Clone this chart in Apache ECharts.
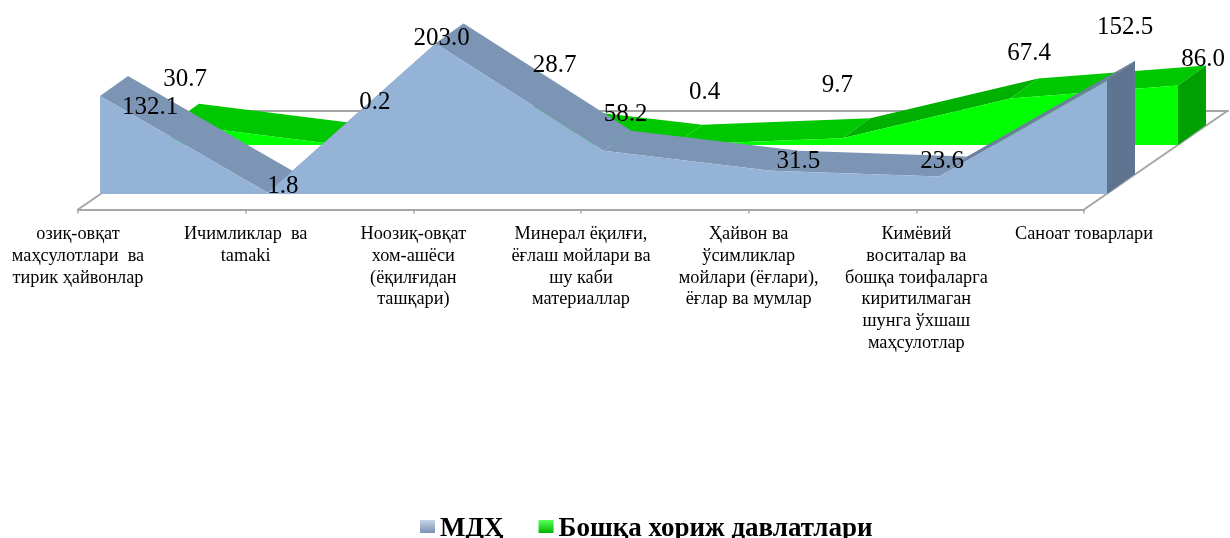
<!DOCTYPE html>
<html><head><meta charset="utf-8">
<style>html,body{margin:0;padding:0;background:#fff}#c{width:1230px;height:538px}</style>
<script src="https://cdn.jsdelivr.net/npm/echarts@6/dist/echarts.min.js"></script>
</head><body><div id="c"></div>
<script>
const categories = [
  "озиқ-овқат\nмаҳсулотлари  ва\nтирик ҳайвонлар",
  "Ичимликлар  ва\ntamaki",
  "Ноозиқ-овқат\nхом-ашёси\n(ёқилғидан\nташқари)",
  "Минерал ёқилғи,\nёғлаш мойлари ва\nшу каби\nматериаллар",
  "Ҳайвон ва\nўсимликлар\nмойлари (ёғлари),\nёғлар ва мумлар",
  "Кимёвий\nвоситалар ва\nбошқа тоифаларга\nкиритилмаган\nшунга ўхшаш\nмаҳсулотлар",
  "Саноат товарлари"
];
const seriesNames = ["МДҲ", "Бошқа хориж давлатлари"];
const mdhValues = [132.1, 1.8, 203.0, 58.2, 31.5, 23.6, 152.5];
const otherValues = [30.7, 0.2, 28.7, 0.4, 9.7, 67.4, 86.0];
const mdhLabelShift = [[50,24.5],[15,7],[6,8],[22,-23.5],[27,4],[3,-2],[18,-40.5]];
const otherLabelShift = [[14,-31],[36,-29.5],[48,-46.5],[30,-39.5],[-5,-39.5],[19,-32.5],[25,-13.5]];

const DEPTH = [28, -20];
const FLOOR = [144, -99];
const W = 1230, H = 538;
const YMAX = 210, PLOT_H = 155.8;
const STEP_W = 1007;
const FONT = '"Liberation Serif","Times New Roman",serif';

function gridAt(left, base, height) {
  return {left: left, top: base - height, width: STEP_W, height: height, containLabel: false};
}
function hiddenX(i) {
  return {type:'category', gridIndex:i, data:categories, boundaryGap:false, show:false};
}
function hiddenY(i) {
  return {type:'value', gridIndex:i, min:0, max:YMAX, show:false};
}
function segments(vals) { return vals.slice(0,-1).map((v,i)=>[i, v, vals[i+1]]); }

function topFaces(vals, axis, z, lightColor, darkColor) {
  return {
    type:'custom', xAxisIndex:axis, yAxisIndex:axis, z:z, silent:true, clip:false,
    data:segments(vals), encode:{x:0,y:1},
    renderItem(params, api) {
      const i = api.value(0);
      const a = api.coord([i, api.value(1)]);
      const b = api.coord([i+1, api.value(2)]);
      const up = b[1] < a[1] - 20;
      return {type:'polygon', shape:{points:[a,b,[b[0]+DEPTH[0],b[1]+DEPTH[1]],[a[0]+DEPTH[0],a[1]+DEPTH[1]]]},
        style:{fill: up ? darkColor : lightColor}};
    }
  };
}
function endCap(vals, axis, z, color) {
  const last = vals.length-1;
  return {
    type:'custom', xAxisIndex:axis, yAxisIndex:axis, z:z, silent:true, clip:false,
    data:[[last, vals[last]]], encode:{x:0,y:1},
    renderItem(params, api) {
      const a = api.coord([api.value(0), api.value(1)]);
      const b = api.coord([api.value(0), 0]);
      return {type:'polygon', shape:{points:[a,b,[b[0]+DEPTH[0],b[1]+DEPTH[1]],[a[0]+DEPTH[0],a[1]+DEPTH[1]]]},
        style:{fill:color}};
    }
  };
}
function frontFace(name, vals, axis, z, color) {
  return {
    type:'line', name:name, xAxisIndex:axis, yAxisIndex:axis, z:z, silent:true, clip:false,
    data:vals, showSymbol:false, symbol:'none', lineStyle:{width:0},
    itemStyle:{color:color}, areaStyle:{color:color, opacity:1}
  };
}
function labels(name, vals, shift, axis) {
  return {
    type:'line', name:name, xAxisIndex:axis, yAxisIndex:axis, z:20, silent:true, clip:false,
    symbol:'circle', symbolSize:1, showSymbol:true, showAllSymbol:true,
    lineStyle:{width:0, opacity:0}, itemStyle:{color:'rgba(0,0,0,0)'},
    labelLayout:p=>({dx:shift[p.dataIndex][0], dy:shift[p.dataIndex][1], hideOverlap:false}),
    data:vals,
    label:{show:true, position:'top', distance:0, color:'#000', fontFamily:FONT, fontSize:25,
      formatter:p=>p.value.toFixed(1)}
  };
}
const floorSide = {
  type:'custom', xAxisIndex:0, yAxisIndex:0, z:1, silent:true, clip:false,
  data:[[0],[categories.length-1]], encode:{x:0},
  renderItem(params, api) {
    const a = api.coord([api.value(0), 0]);
    return {type:'line', shape:{x1:a[0],y1:a[1],x2:a[0]+FLOOR[0],y2:a[1]+FLOOR[1]},
      style:{stroke:'#A6A6A6', lineWidth:2}};
  }
};

const option = {
  animation:false,
  backgroundColor:'#fff',
  textStyle:{fontFamily:FONT},
  grid:[
    {left:78, top:100, width:1006, height:109.5},
    gridAt(100,194,PLOT_H),
    gridAt(171,145,PLOT_H),
    {left:222, top:60, width:1006, height:50.5}
  ],
  xAxis:[
    {type:'category', gridIndex:0, data:categories, boundaryGap:false,
     axisLine:{show:true, lineStyle:{color:'#A6A6A6', width:2}},
     axisTick:{show:true, length:4, alignWithLabel:true, lineStyle:{color:'#A6A6A6', width:1.5}},
     splitLine:{show:false},
     axisLabel:{show:true, interval:0, margin:14, color:'#000', fontFamily:FONT, fontSize:18.3, lineHeight:21.7,
       hideOverlap:false, rotate:0, verticalAlign:'top'}},
    hiddenX(1),
    hiddenX(2),
    {type:'category', gridIndex:3, data:categories, boundaryGap:false,
     axisLine:{show:true, lineStyle:{color:'#A6A6A6', width:2}},
     axisTick:{show:false}, axisLabel:{show:false}, splitLine:{show:false}}
  ],
  yAxis:[
    {type:'value', gridIndex:0, min:0, max:100, show:false},
    hiddenY(1),
    hiddenY(2),
    {type:'value', gridIndex:3, min:0, max:100, show:false}
  ],
  legend:{
    left:415, top:511, itemGap:35, itemWidth:15, itemHeight:19, selectedMode:false,
    icon:'path://M0,0H15V13H0Z M0,19L0,19Z',
    textStyle:{fontFamily:FONT, fontSize:27, fontWeight:'bold', color:'#000'},
    data:[
      {name:seriesNames[0], itemStyle:{color:{type:'linear',x:0,y:0,x2:0,y2:1,colorStops:[{offset:0,color:'#C5D5E8'},{offset:0.68,color:'#7C93B3'}]}}},
      {name:seriesNames[1], itemStyle:{color:{type:'linear',x:0,y:0,x2:0,y2:1,colorStops:[{offset:0,color:'#5CFF5C'},{offset:0.68,color:'#00B400'}]}}}
    ]
  },
  series:[
    floorSide,
    topFaces(otherValues, 2, 3, '#00C800', '#00B000'),
    endCap(otherValues, 2, 3, '#00A000'),
    frontFace(seriesNames[1], otherValues, 2, 4, '#00FF00'),
    topFaces(mdhValues, 1, 5, '#7D95B5', '#6C809D'),
    frontFace(seriesNames[0], mdhValues, 1, 6, '#95B3D7'),
    endCap(mdhValues, 1, 7, '#5F7490'),
    labels(seriesNames[0], mdhValues, mdhLabelShift, 1),
    labels(seriesNames[1], otherValues, otherLabelShift, 2)
  ]
};
echarts.init(document.getElementById('c'), null, {renderer:'canvas', width:W, height:H}).setOption(option);
</script></body></html>
